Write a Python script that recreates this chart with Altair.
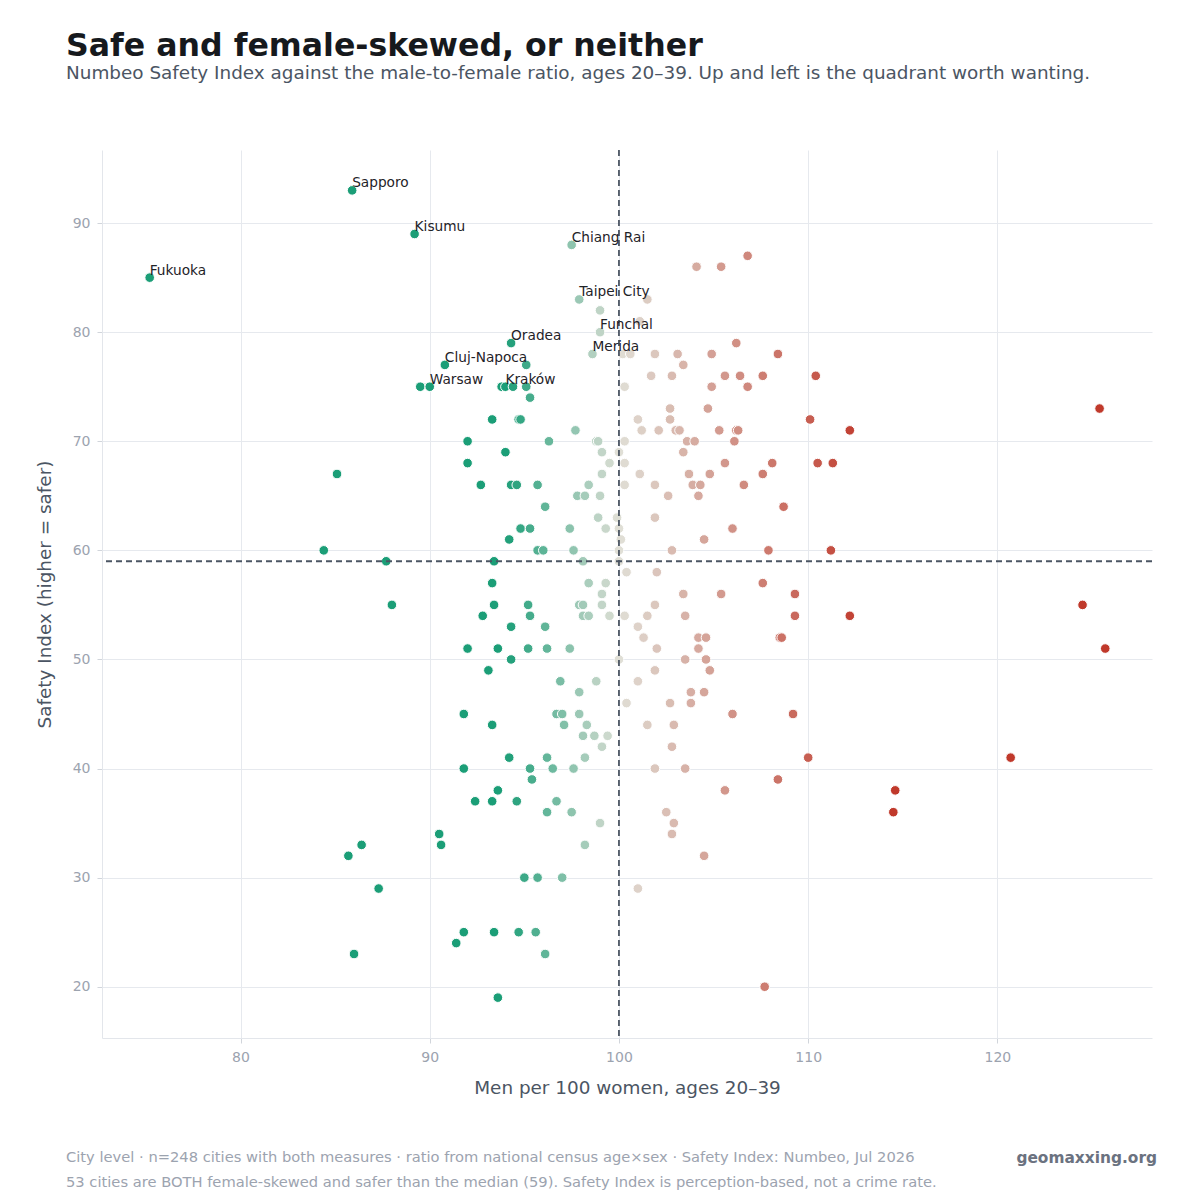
import altair as alt
import pandas as pd

# ---- data -------------------------------------------------------------------
# Safety Index level (rows) and the men-per-100-women ratios of the cities at that level
safety_rows = [93, 89, 88, 87, 86, 85, 83, 82, 81, 80, 79, 78, 77, 76, 75, 74, 73, 72, 71, 70,
               69, 68, 67, 66, 65, 64, 63, 62, 61, 60, 59, 58, 57, 56, 55, 54, 53, 52, 51, 50,
               49, 48, 47, 46, 45, 44, 43, 42, 41, 40, 39, 38, 37, 36, 35, 34, 33, 32, 30, 29,
               25, 24, 23, 20, 19]
ratio_rows = [
    [85.9],
    [89.2],
    [97.5],
    [106.8],
    [104.1, 105.4],
    [75.2],
    [97.9, 101.5],
    [99.0],
    [101.1],
    [99.0],
    [94.3, 106.2],
    [98.6, 100.2, 100.6, 101.9, 103.1, 104.9, 108.4],
    [90.8, 95.1, 103.4],
    [101.7, 102.8, 105.6, 106.4, 107.6, 110.4],
    [89.5, 90.0, 93.8, 94.0, 94.4, 95.1, 100.3, 104.9, 106.8],
    [95.3],
    [102.7, 104.7, 125.4],
    [93.3, 94.7, 94.8, 101.0, 102.7, 110.1],
    [97.7, 101.2, 102.1, 103.0, 103.2, 105.3, 106.2, 106.3, 112.2],
    [92.0, 96.3, 98.8, 98.9, 100.3, 103.6, 104.0, 106.1],
    [94.0, 99.1, 100.0, 103.4],
    [92.0, 99.5, 100.3, 105.6, 108.1, 110.5, 111.3],
    [85.1, 99.1, 101.1, 103.7, 104.8, 107.6],
    [92.7, 94.3, 94.6, 95.7, 98.4, 100.3, 101.9, 103.9, 104.3, 106.6],
    [97.8, 98.2, 99.0, 102.6, 104.2],
    [96.1, 108.7],
    [98.9, 99.9, 101.9],
    [94.8, 95.3, 97.4, 99.3, 100.0, 106.0],
    [94.2, 100.1, 104.5],
    [84.4, 95.7, 96.0, 97.6, 100.0, 102.8, 107.9, 111.2],
    [87.7, 93.4, 98.1, 100.0],
    [100.4, 102.0],
    [93.3, 98.4, 99.3, 107.6],
    [99.1, 103.4, 105.4, 109.3],
    [88.0, 93.4, 95.2, 97.9, 98.1, 99.1, 101.9, 124.5],
    [92.8, 95.3, 98.1, 98.4, 99.5, 100.3, 101.5, 103.5, 109.3, 112.2],
    [94.3, 96.1, 101.0],
    [101.3, 104.2, 104.6, 108.5, 108.6],
    [92.0, 93.6, 95.2, 96.2, 97.4, 102.0, 104.2, 125.7],
    [94.3, 100.0, 103.5, 104.6],
    [93.1, 101.9, 104.8],
    [96.9, 98.8, 101.0],
    [97.9, 103.8, 104.5],
    [100.4, 102.7, 103.8],
    [91.8, 96.7, 97.0, 97.9, 106.0, 109.2],
    [93.3, 97.1, 98.3, 101.5, 102.9],
    [98.1, 98.7, 99.4],
    [99.1, 102.8],
    [94.2, 96.2, 98.2, 110.0, 120.7],
    [91.8, 95.3, 96.5, 97.6, 101.9, 103.5],
    [95.4, 108.4],
    [93.6, 105.6, 114.6],
    [92.4, 93.3, 94.6, 96.7],
    [96.2, 97.5, 102.5, 114.5],
    [99.0, 102.9],
    [90.5, 102.8],
    [86.4, 90.6, 98.2],
    [85.7, 104.5],
    [95.0, 95.7, 97.0],
    [87.3, 101.0],
    [91.8, 93.4, 94.7, 95.6],
    [91.4],
    [86.0, 96.1],
    [107.7],
    [93.6],
]

label_city = ["Sapporo", "Kisumu", "Chiang Rai", "Fukuoka", "Taipei City", "Funchal",
              "Oradea", "Merida", "Cluj-Napoca", "Warsaw", "Kraków"]
label_ratio = [85.9, 89.2, 97.5, 75.2, 97.9, 99.0, 94.3, 98.6, 90.8, 90.0, 94.0]
label_safety = [93, 89, 88, 85, 83, 80, 79, 78, 77, 75, 75]

median_safety = 59
parity_ratio = 100
x_ticks = [80, 90, 100, 110, 120]
y_ticks = [20, 30, 40, 50, 60, 70, 80, 90]

title_text = "Safe and female-skewed, or neither"
subtitle_text = ("Numbeo Safety Index against the male-to-female ratio, ages 20–39. "
                 "Up and left is the quadrant worth wanting.")
x_title = "Men per 100 women, ages 20–39"
y_title = "Safety Index (higher = safer)"
footer_1 = ("City level · n=248 cities with both measures · ratio from national census "
            "age×sex · Safety Index: Numbeo, Jul 2026")
footer_2 = ("53 cities are BOTH female-skewed and safer than the median (59). "
            "Safety Index is perception-based, not a crime rate.")
brand = "geomaxxing.org"

# ---- tables -------------------------------------------------------------------
recs = []
for s, rs in zip(safety_rows, ratio_rows):
    for r in rs:
        recs.append({"ratio": r, "safety": s})
points = pd.DataFrame(recs)
labels = pd.DataFrame({"city": label_city, "ratio": label_ratio, "safety": label_safety})

W, H = 1050, 888
FONT = "DejaVu Sans"

xscale = alt.Scale(domain=[72.68, 128.17], nice=False, zero=False)
yscale = alt.Scale(domain=[15.3, 96.7], nice=False, zero=False)

x_axis = alt.Axis(values=x_ticks, title=x_title, format="d", titlePadding=14)
y_axis = alt.Axis(values=y_ticks, title=y_title, format="d", titlePadding=18)

color_scale = alt.Scale(domain=[94, 100, 113],
                        range=["#1b9e77", "#e0dfd6", "#c0392b"],
                        interpolate="rgb", clamp=True)

dots = alt.Chart(points).mark_circle(size=92, opacity=1, stroke="white", strokeWidth=1).encode(
    x=alt.X("ratio:Q", scale=xscale, axis=x_axis),
    y=alt.Y("safety:Q", scale=yscale, axis=y_axis),
    color=alt.Color("ratio:Q", scale=color_scale, legend=None),
)

vline = alt.Chart(pd.DataFrame({"v": [parity_ratio]})).mark_rule(
    color="#4b5563", strokeDash=[6, 4], strokeWidth=1.8
).encode(x=alt.X("v:Q", scale=xscale))

hline = alt.Chart(pd.DataFrame({"h": [median_safety]})).mark_rule(
    color="#4b5563", strokeDash=[6, 4], strokeWidth=1.8
).encode(y=alt.Y("h:Q", scale=yscale))

names = alt.Chart(labels).mark_text(
    align="left", baseline="alphabetic", dy=-3, fontSize=13.7, font=FONT, color="#1f2328"
).encode(
    x=alt.X("ratio:Q", scale=xscale),
    y=alt.Y("safety:Q", scale=yscale),
    text="city:N",
)


def free_text(txt, x, y, size, color, weight="normal", align="left"):
    return alt.Chart(pd.DataFrame({"t": [txt]})).mark_text(
        align=align, baseline="alphabetic", fontSize=size, font=FONT,
        color=color, fontWeight=weight
    ).encode(text="t:N", x=alt.value(x), y=alt.value(y))


title_m = free_text(title_text, -36, -94, 31.6, "#16191d", weight="bold")
subtitle_m = free_text(subtitle_text, -36, -71, 18.4, "#4b5563")
foot1 = free_text(footer_1, -36, 1012, 14.7, "#9ca3af")
foot2 = free_text(footer_2, -36, 1037, 14.7, "#9ca3af")
brand_m = free_text(brand, 1055, 1012.5, 15.4, "#6b7280", weight="bold", align="right")

chart = alt.layer(
    dots, vline, hline, names, title_m, subtitle_m, foot1, foot2, brand_m
).properties(
    width=W, height=H,
    autosize=alt.AutoSizeParams(type="none"),
    padding={"left": 102, "top": 150, "right": 48, "bottom": 162},
    background="white",
).configure_view(stroke=None).configure_axis(
    grid=True, gridColor="#e6e9ee", gridWidth=1,
    domainColor="#e3e6eb", tickColor="#d1d5db", tickSize=5,
    labelColor="#9ca3af", labelFontSize=14, labelFont=FONT, labelPadding=7,
    titleColor="#4b5563", titleFontSize=18.4, titleFont=FONT, titleFontWeight="normal",
)

chart.save("out.html", embed_options={"renderer": "svg", "actions": False})
